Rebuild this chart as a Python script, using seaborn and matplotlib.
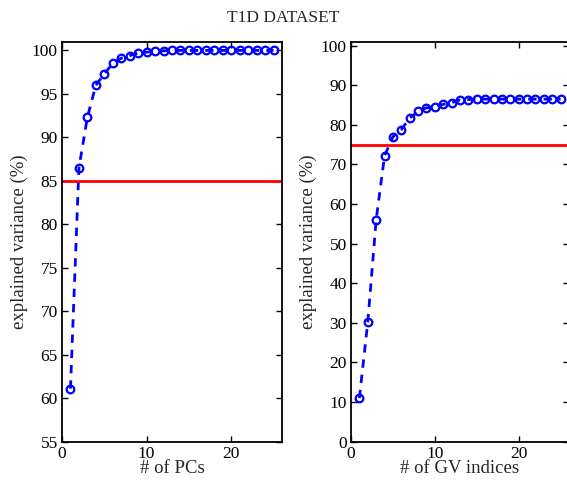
import matplotlib
matplotlib.use('Agg')
import matplotlib.pyplot as plt
import seaborn as sns

# explained variance values
n_pcs = list(range(1, 26))
pc_variance = [61.1, 86.5, 92.3, 96.0, 97.3, 98.5, 99.1, 99.4, 99.7, 99.8,
               99.9, 99.95, 100, 100, 100, 100, 100, 100, 100, 100,
               100, 100, 100, 100, 100]
pc_threshold = 85

n_gv = list(range(1, 26))
gv_variance = [11.0, 30.2, 56.0, 72.2, 77.0, 78.8, 81.7, 83.4, 84.3, 84.5,
               85.2, 85.6, 86.3, 86.4, 86.5, 86.5, 86.5, 86.5, 86.5, 86.5,
               86.5, 86.5, 86.5, 86.5, 86.5]
gv_threshold = 75

sns.set_style('ticks')
plt.rcParams['font.family'] = ['Liberation Serif', 'DejaVu Serif']

fig = plt.figure(figsize=(5.67, 4.82), dpi=100)
W, H = 567, 482
ax1 = fig.add_axes([62 / W, 1 - 441.7 / H, 220 / W, 400 / H])
ax2 = fig.add_axes([351 / W, 1 - 441.7 / H, 218 / W, 400 / H])


def draw(ax, x, y, thr, ylim, yticks, xlabel):
    sns.lineplot(x=x, y=y, ax=ax, color='blue', linestyle=(0, (3, 2.5)), lw=2,
                 marker='o', markersize=5.5, markerfacecolor='none',
                 markeredgecolor='blue', markeredgewidth=1.6)
    ax.axhline(thr, color='red', lw=2)
    ax.set_xlim(0, 26)
    ax.set_ylim(*ylim)
    ax.set_xticks([0, 10, 20])
    ax.set_yticks(yticks)
    ax.tick_params(direction='in', top=True, right=True, labelsize=12.5,
                   length=4, width=1, colors='black', pad=3)
    for s in ax.spines.values():
        s.set_linewidth(1.3)
        s.set_color('black')
    ax.set_xlabel(xlabel, fontsize=13.5, labelpad=-1)
    ax.set_ylabel('explained variance (%)', fontsize=13.5, labelpad=3)


draw(ax1, n_pcs, pc_variance, pc_threshold, (55, 101),
     list(range(55, 101, 5)), '# of PCs')
draw(ax2, n_gv, gv_variance, gv_threshold, (0, 101),
     list(range(0, 101, 10)), '# of GV indices')

fig.text(283 / W, 1 - 18 / H, 'T1D DATASET', ha='center', va='center',
         fontsize=12.5)

fig.savefig('out.png', dpi=100)
